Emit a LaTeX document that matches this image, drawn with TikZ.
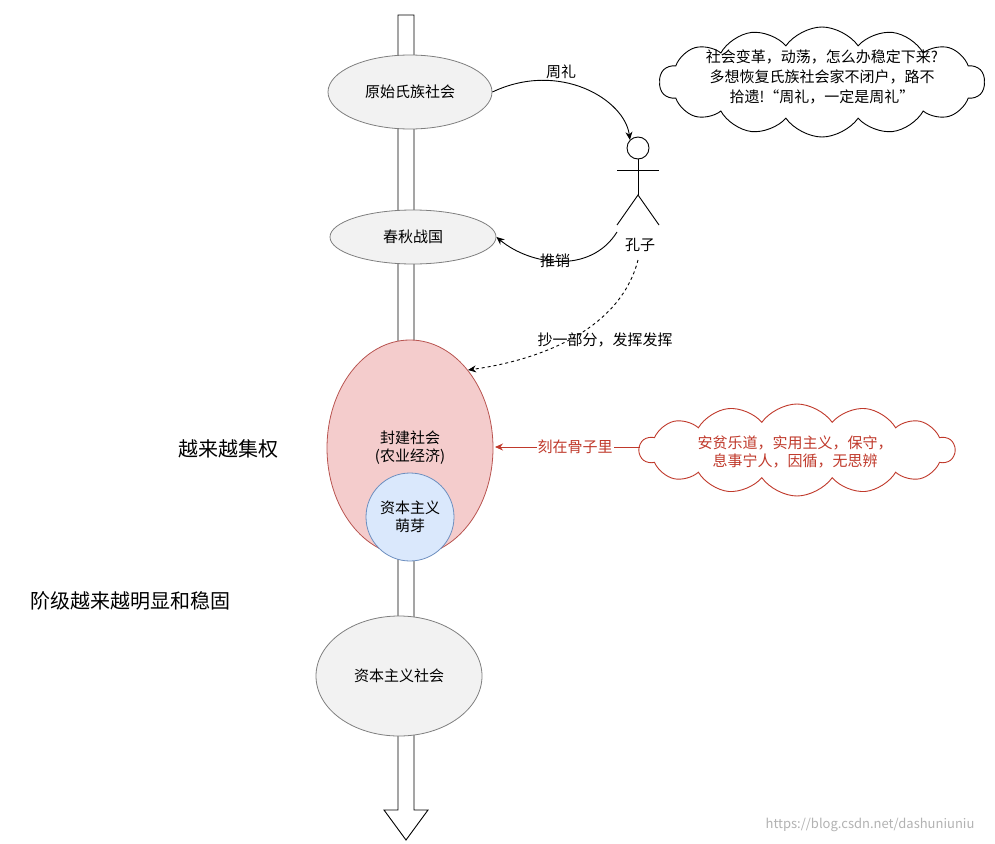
\documentclass[tikz,border=0pt]{standalone}
\usepackage{fontspec}
\setmainfont{Noto Sans CJK SC}
\usetikzlibrary{shapes.symbols,arrows.meta}
\definecolor{gfill}{HTML}{F2F2F2}
\definecolor{gline}{HTML}{7F7F7F}
\definecolor{rfill}{HTML}{F4CCCC}
\definecolor{rline}{HTML}{B85450}
\definecolor{bfill}{HTML}{DAE8FC}
\definecolor{bline}{HTML}{6C8EBF}
\definecolor{redtxt}{HTML}{C0392B}
\tikzset{
  ell/.style={ellipse,draw=gline,fill=gfill,line width=0.8pt,font=\fontsize{15}{18}\selectfont,align=center,inner sep=0pt},
  lbl/.style={font=\fontsize{15}{18}\selectfont,align=center},
  conn/.style={-{Stealth[length=8pt,width=7pt]},line width=0.9pt},
  cl/.style={cloud,cloud puffs=14,cloud puff arc=110,aspect=3,draw,line width=0.9pt,fill=white,font=\fontsize{15}{20}\selectfont,align=center,inner sep=0pt}
}
\usetikzlibrary{shapes.geometric}
\begin{document}
\begin{tikzpicture}[x=1pt,y=-1pt]
\useasboundingbox (0,0) rectangle (995,843);
% main arrow
\draw[line width=0.9pt,fill=white] (398,15) -- (414,15) -- (414,810) -- (428,810) -- (406,840) -- (384,810) -- (398,810) -- cycle;
\node[ell,minimum width=164pt,minimum height=74pt] (ys) at (410,92) {原始氏族社会};
\node[ell,minimum width=166pt,minimum height=54pt] (cq) at (413,237) {春秋战国};
\node[ell,draw=rline,fill=rfill,minimum width=166pt,minimum height=216pt] (fj) at (410,448) {};
\node[lbl] (fjt) at (410,448) {封建社会\\(农业经济)};
\node[circle,draw=bline,fill=bfill,line width=0.8pt,minimum size=88pt,inner sep=0pt,lbl] (mz) at (410,517) {资本主义\\萌芽};
\node[ell,minimum width=166pt,minimum height=120pt] (zb) at (399,676) {资本主义社会};
% stick figure
\node[circle,draw,line width=0.9pt,minimum size=22pt,inner sep=0pt] (head) at (638,148) {};
\draw[line width=0.9pt] (head.south) -- (638,195) coordinate (hip);
\draw[line width=0.9pt] (617,170) -- (659,170);
\draw[line width=0.9pt] (617,225) -- (hip) -- (659,225);
\node[lbl] (kz) at (640,245) {孔子};
% clouds
\node[cl,minimum width=325pt,minimum height=110pt] (c1) at (822,82) {};
\node[lbl,font=\fontsize{15}{20}\selectfont] at (822,77) {社会变革，动荡，怎么办稳定下来?\\多想恢复氏族社会家不闭户，路不\\拾遗!“周礼，一定是周礼”};
\node[cl,draw=redtxt,text=redtxt,minimum width=315pt,minimum height=92pt] (c2) at (797,450) {};
\node[lbl,text=redtxt] at (795,452) {安贫乐道，实用主义，保守，\\息事宁人，因循，无思辨};
% connectors
\draw[conn] (ys.east) .. controls (560,60) and (625,100) .. (head.north west);
\node[lbl] at (561,72) {周礼};
\draw[conn] (617,232) .. controls (590,275) and (530,265) .. (cq.east);
\node[lbl] at (555,261) {推销};
\draw[conn,dashed] (638,260) .. controls (620,330) and (540,360) .. (468,370);
\node[lbl] at (605,340) {抄一部分，发挥发挥};
\draw[conn,draw=redtxt,color=redtxt] (640,447) -- (495,447);
\node[lbl,text=redtxt,fill=white,inner sep=1pt] at (575,447) {刻在骨子里};
% side texts
\node[font=\fontsize{20}{24}\selectfont] at (228,449) {越来越集权};
\node[font=\fontsize{20}{24}\selectfont] at (130,601) {阶级越来越明显和稳固};
\node[font=\fontsize{13}{15}\selectfont,text=gray!60] at (870,825) {https://blog.csdn.net/dashuniuniu};
\end{tikzpicture}
\end{document}
